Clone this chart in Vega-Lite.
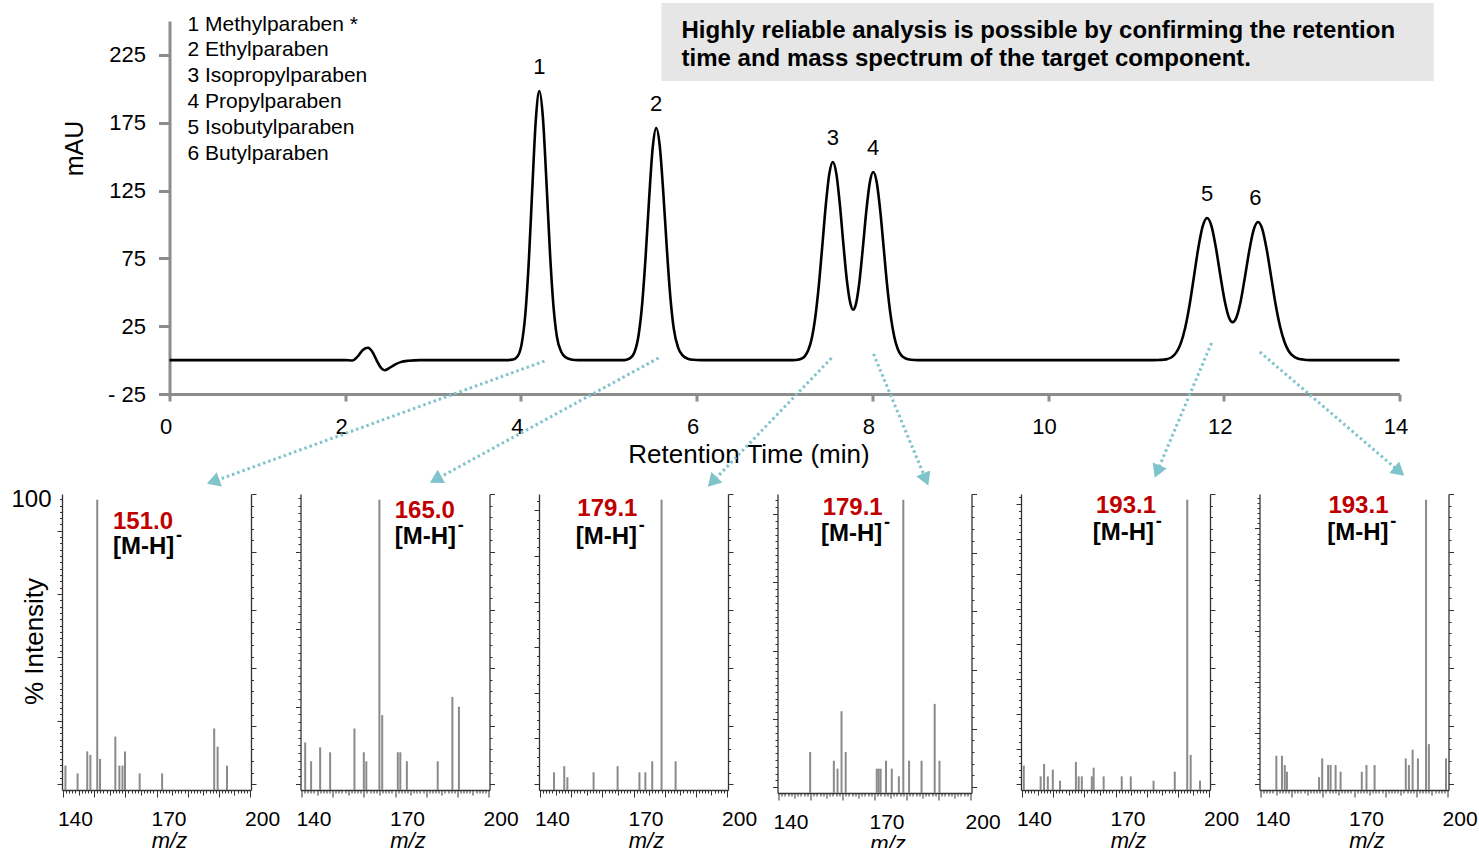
{
"$schema": "https://vega.github.io/schema/vega-lite/v6.json",
"background": "white",
"padding": {"left": 10, "top": 2, "right": 5, "bottom": 0},
"autosize": {"type": "pad"},
"config": {"view": {"stroke": null}, "font": "Liberation Sans", "axis": {"grid": false, "labelFont": "Liberation Sans", "titleFont": "Liberation Sans"}},
"datasets": {
"chrom": [
{"t":0,"v":0},{"t":1,"v":0},{"t":2.0,"v":0},{"t":2.08,"v":-0.3},{"t":2.14,"v":2.5},{"t":2.2,"v":7.5},{"t":2.26,"v":9.1},{"t":2.31,"v":6.0},{"t":2.36,"v":-0.5},{"t":2.41,"v":-6.0},{"t":2.45,"v":-7.5},{"t":2.5,"v":-6.0},{"t":2.56,"v":-3.5},{"t":2.63,"v":-1.5},{"t":2.72,"v":-0.5},{"t":2.85,"v":0},{"t":3.5,"v":0},{"t":3.85,"v":0},
{"t":3.91,"v":0.4},{"t":3.96,"v":2.6},{"t":4.01,"v":12.5},{"t":4.05,"v":33.8},{"t":4.09,"v":73.2},{"t":4.13,"v":127.4},{"t":4.17,"v":177.6},{"t":4.21,"v":198.4},{"t":4.25,"v":179},{"t":4.29,"v":132},{"t":4.33,"v":80},{"t":4.37,"v":40},{"t":4.41,"v":17},{"t":4.46,"v":6},{"t":4.51,"v":2},{"t":4.57,"v":0.5},{"t":4.65,"v":0},{"t":5.0,"v":0},{"t":5.18,"v":0},
{"t":5.24,"v":1.2},{"t":5.29,"v":5.4},{"t":5.34,"v":18.7},{"t":5.38,"v":41.5},{"t":5.42,"v":77},{"t":5.46,"v":120},{"t":5.5,"v":156.6},{"t":5.54,"v":171.1},{"t":5.58,"v":158},{"t":5.62,"v":124},{"t":5.66,"v":83},{"t":5.7,"v":47},{"t":5.74,"v":23},{"t":5.79,"v":9},{"t":5.84,"v":3.5},{"t":5.9,"v":1},{"t":5.96,"v":0.2},{"t":6.05,"v":0},{"t":7.0,"v":0},{"t":7.1,"v":0},
{"t":7.15,"v":0.3},{"t":7.19,"v":1.0},{"t":7.23,"v":2.8},{"t":7.27,"v":7.2},{"t":7.31,"v":15.9},{"t":7.35,"v":31.4},{"t":7.39,"v":54.5},{"t":7.43,"v":84.0},{"t":7.47,"v":114.3},{"t":7.51,"v":137.3},{"t":7.55,"v":146.1},{"t":7.59,"v":137.5},{"t":7.63,"v":114.8},{"t":7.67,"v":85.6},{"t":7.71,"v":58.8},{"t":7.75,"v":41.7},{"t":7.78,"v":37.2},{"t":7.81,"v":40.6},{"t":7.85,"v":56.3},{"t":7.89,"v":81.5},{"t":7.93,"v":109.1},{"t":7.97,"v":130.6},{"t":8.01,"v":138.7},{"t":8.05,"v":131},{"t":8.09,"v":110},{"t":8.13,"v":82},{"t":8.17,"v":54},{"t":8.21,"v":32},{"t":8.25,"v":17},{"t":8.29,"v":8},{"t":8.33,"v":3.5},{"t":8.38,"v":1.2},{"t":8.44,"v":0.3},{"t":8.52,"v":0},{"t":9.5,"v":0},{"t":11.0,"v":0},{"t":11.2,"v":0},
{"t":11.26,"v":0.1},{"t":11.31,"v":0.3},{"t":11.36,"v":0.85},{"t":11.41,"v":2.3},{"t":11.46,"v":5.7},{"t":11.51,"v":12.3},{"t":11.56,"v":23.7},{"t":11.61,"v":40.5},{"t":11.66,"v":61.4},{"t":11.71,"v":82.6},{"t":11.76,"v":98.7},{"t":11.81,"v":104.8},{"t":11.86,"v":98.8},{"t":11.91,"v":83.0},{"t":11.96,"v":62.7},{"t":12.01,"v":43.8},{"t":12.06,"v":31.3},{"t":12.1,"v":28.0},{"t":12.14,"v":30.9},{"t":12.19,"v":42.7},{"t":12.24,"v":61.0},{"t":12.29,"v":80.6},{"t":12.34,"v":96.0},{"t":12.39,"v":101.8},{"t":12.44,"v":96.2},{"t":12.49,"v":81},{"t":12.54,"v":61},{"t":12.59,"v":41},{"t":12.64,"v":25},{"t":12.69,"v":13.5},{"t":12.74,"v":6.5},{"t":12.79,"v":3},{"t":12.84,"v":1.2},{"t":12.9,"v":0.4},{"t":12.98,"v":0},{"t":13.5,"v":0},{"t":14.0,"v":0}
],
"peaks": [
{"label":"1","t":4.21,"v":198.4},{"label":"2","t":5.54,"v":171.1},{"label":"3","t":7.55,"v":146.1},{"label":"4","t":8.01,"v":138.7},{"label":"5","t":11.81,"v":104.8},{"label":"6","t":12.36,"v":101.8}
],
"arrows": [
{"t0":4.268,"v0":-0.7,"t1":0.496,"v1":-89.6},
{"t0":5.566,"v0":1.5,"t1":3.029,"v1":-88.1},
{"t0":7.535,"v0":1.5,"t1":6.179,"v1":-89.9},
{"t0":8.013,"v0":4.5,"t1":8.608,"v1":-88.0},
{"t0":11.86,"v0":12.6,"t1":11.242,"v1":-82.2},
{"t0":12.41,"v0":6.0,"t1":13.997,"v1":-82.1}
],
"ms": [
{"panel":1,"mz":140.8,"intensity":8.4},{"panel":1,"mz":144.7,"intensity":5.7},{"panel":1,"mz":147.8,"intensity":13.3},{"panel":1,"mz":148.8,"intensity":12.1},{"panel":1,"mz":151.0,"intensity":100},{"panel":1,"mz":151.9,"intensity":10.7},{"panel":1,"mz":156.8,"intensity":18.4},{"panel":1,"mz":158.1,"intensity":8.4},{"panel":1,"mz":159.1,"intensity":8.4},{"panel":1,"mz":159.9,"intensity":13.3},{"panel":1,"mz":164.6,"intensity":5.7},{"panel":1,"mz":171.8,"intensity":5.7},{"panel":1,"mz":188.5,"intensity":21.2},{"panel":1,"mz":189.6,"intensity":14.9},{"panel":1,"mz":192.6,"intensity":8.4},
{"panel":2,"mz":141.2,"intensity":16.4},{"panel":2,"mz":143.1,"intensity":9.9},{"panel":2,"mz":146.0,"intensity":14.7},{"panel":2,"mz":149.2,"intensity":13.0},{"panel":2,"mz":157.0,"intensity":21.2},{"panel":2,"mz":160.0,"intensity":13.0},{"panel":2,"mz":160.8,"intensity":9.9},{"panel":2,"mz":165.0,"intensity":100},{"panel":2,"mz":165.9,"intensity":25.8},{"panel":2,"mz":170.9,"intensity":13.0},{"panel":2,"mz":171.7,"intensity":13.0},{"panel":2,"mz":173.8,"intensity":9.9},{"panel":2,"mz":183.7,"intensity":9.9},{"panel":2,"mz":188.4,"intensity":32.1},{"panel":2,"mz":190.5,"intensity":28.7},
{"panel":3,"mz":144.5,"intensity":6.1},{"panel":3,"mz":147.8,"intensity":8.2},{"panel":3,"mz":148.8,"intensity":4.4},{"panel":3,"mz":157.2,"intensity":6.1},{"panel":3,"mz":164.9,"intensity":8.2},{"panel":3,"mz":171.9,"intensity":6.1},{"panel":3,"mz":173.8,"intensity":6.1},{"panel":3,"mz":176.0,"intensity":9.9},{"panel":3,"mz":179.0,"intensity":100},{"panel":3,"mz":183.5,"intensity":9.9},
{"panel":4,"mz":149.9,"intensity":14.0},{"panel":4,"mz":157.3,"intensity":11.0},{"panel":4,"mz":158.45,"intensity":8.3},{"panel":4,"mz":159.7,"intensity":27.9},{"panel":4,"mz":161.0,"intensity":14.0},{"panel":4,"mz":170.7,"intensity":8.3},{"panel":4,"mz":171.3,"intensity":8.3},{"panel":4,"mz":171.9,"intensity":8.3},{"panel":4,"mz":173.6,"intensity":11.0},{"panel":4,"mz":175.4,"intensity":8.3},{"panel":4,"mz":177.6,"intensity":5.7},{"panel":4,"mz":179.0,"intensity":100},{"panel":4,"mz":180.8,"intensity":11.0},{"panel":4,"mz":184.7,"intensity":11.0},{"panel":4,"mz":188.8,"intensity":30.4},{"panel":4,"mz":190.3,"intensity":11.0},
{"panel":5,"mz":140.6,"intensity":8.4},{"panel":5,"mz":146.0,"intensity":4.7},{"panel":5,"mz":147.1,"intensity":9.0},{"panel":5,"mz":148.3,"intensity":4.7},{"panel":5,"mz":149.9,"intensity":7.0},{"panel":5,"mz":152.2,"intensity":3.2},{"panel":5,"mz":157.3,"intensity":9.7},{"panel":5,"mz":158.2,"intensity":4.7},{"panel":5,"mz":159.2,"intensity":4.7},{"panel":5,"mz":162.4,"intensity":4.7},{"panel":5,"mz":163.0,"intensity":7.7},{"panel":5,"mz":166.2,"intensity":4.7},{"panel":5,"mz":172.0,"intensity":4.7},{"panel":5,"mz":174.9,"intensity":4.7},{"panel":5,"mz":182.2,"intensity":3.2},{"panel":5,"mz":189.0,"intensity":6.3},{"panel":5,"mz":193.0,"intensity":100},{"panel":5,"mz":194.1,"intensity":12.1},{"panel":5,"mz":197.1,"intensity":3.2},
{"panel":6,"mz":145.1,"intensity":11.8},{"panel":6,"mz":146.9,"intensity":11.8},{"panel":6,"mz":147.8,"intensity":8.6},{"panel":6,"mz":148.5,"intensity":6.3},{"panel":6,"mz":158.8,"intensity":4.4},{"panel":6,"mz":159.8,"intensity":10.9},{"panel":6,"mz":161.7,"intensity":8.6},{"panel":6,"mz":162.5,"intensity":8.6},{"panel":6,"mz":164.1,"intensity":8.6},{"panel":6,"mz":165.7,"intensity":6.3},{"panel":6,"mz":172.5,"intensity":6.3},{"panel":6,"mz":174.0,"intensity":8.6},{"panel":6,"mz":176.6,"intensity":8.6},{"panel":6,"mz":186.6,"intensity":10.9},{"panel":6,"mz":187.6,"intensity":8.6},{"panel":6,"mz":188.8,"intensity":13.9},{"panel":6,"mz":190.5,"intensity":10.9},{"panel":6,"mz":193.1,"intensity":100},{"panel":6,"mz":194.0,"intensity":15.8},{"panel":6,"mz":199.5,"intensity":10.9}
]
},
"spacing": 0,
"vconcat": [
{
"spacing": 49.5,
"bounds": "flush",
"hconcat": [
{"data": {"values": []}, "mark": "point", "width": 57.5, "height": 373},
{
"width": 1230, "height": 373,
"layer": [
{"data": {"values": [{}]}, "mark": {"type": "rule", "opacity": 0, "strokeWidth": 1, "clip": false},
 "encoding": {"x": {"datum": -1.798, "type": "quantitative", "axis": null}, "x2": {"datum": 0}, "y": {"datum": 0, "type": "quantitative", "axis": null}}},
{"data": {"values": [{}]}, "mark": {"type": "rect", "color": "#e6e6e6", "clip": false},
 "encoding": {"x": {"datum": 5.6, "type": "quantitative", "axis": null}, "x2": {"datum": 14.39}, "y": {"datum": 263.3, "type": "quantitative", "axis": null}, "y2": {"datum": 205.8}}},
{"data": {"name": "chrom"},
 "mark": {"type": "line", "color": "black", "strokeWidth": 2.6, "interpolate": "monotone", "clip": false},
 "encoding": {
  "x": {"field": "t", "type": "quantitative", "scale": {"domain": [0, 14], "nice": false, "zero": false},
   "axis": {"values": [0,2,4,6,8,10,12,14], "tickSize": 7, "tickWidth": 3, "tickColor": "#8c8c8c", "domainColor": "#8c8c8c", "domainWidth": 3, "labelFontSize": 22, "labelColor": "black", "labelPadding": 15, "labelOffset": -4, "labelFlush": false, "labelOverlap": false, "title": "Retention Time (min)", "titleFontSize": 26, "titleFontWeight": "normal", "titleColor": "black", "titleX": 579, "titleY": 60, "titleBaseline": "middle", "titleAlign": "center"}},
  "y": {"field": "v", "type": "quantitative", "scale": {"domain": [-25, 250], "nice": false, "zero": false},
   "axis": {"values": [-25,25,75,125,175,225], "labelExpr": "datum.value < 0 ? '- 25' : datum.label", "tickSize": 11, "tickWidth": 3, "tickColor": "#8c8c8c", "domainColor": "#8c8c8c", "domainWidth": 3, "labelFontSize": 22, "labelColor": "black", "labelPadding": 13, "labelOverlap": false, "labelFlush": false, "title": "mAU", "titleFontSize": 25, "titleFontWeight": "normal", "titleColor": "black", "titleX": -95, "titleY": 127, "titleAngle": 270, "titleBaseline": "middle", "titleAlign": "center"}}
 }},
{"data": {"name": "peaks"},
 "mark": {"type": "text", "fontSize": 22, "dy": -24, "baseline": "middle", "align": "center", "color": "black"},
 "encoding": {"x": {"field": "t", "type": "quantitative", "axis": null}, "y": {"field": "v", "type": "quantitative", "axis": null}, "text": {"field": "label"}}},
{"data": {"values": [{}]}, "mark": {"type": "text", "text": ["1 Methylparaben *", "2 Ethylparaben", "3 Isopropylparaben", "4 Propylparaben", "5 Isobutylparaben", "6 Butylparaben"], "fontSize": 21, "lineHeight": 25.8, "align": "left", "baseline": "top", "color": "black"},
 "encoding": {"x": {"datum": 0.205, "type": "quantitative", "axis": null}, "y": {"datum": 255.4, "type": "quantitative", "axis": null}}},
{"data": {"values": [{}]}, "mark": {"type": "text", "text": ["Highly reliable analysis is possible by confirming the retention", "time and mass spectrum of the target component."], "fontSize": 24, "fontWeight": "bold", "lineHeight": 28, "align": "left", "baseline": "top", "color": "black"},
 "encoding": {"x": {"datum": 5.828, "type": "quantitative", "axis": null}, "y": {"datum": 251.8, "type": "quantitative", "axis": null}}},
{"data": {"name": "arrows"},
 "mark": {"type": "rule", "color": "#7fc3cb", "strokeWidth": 3, "strokeDash": [2.5, 3], "clip": false},
 "encoding": {"x": {"field": "t0", "type": "quantitative", "axis": null}, "y": {"field": "v0", "type": "quantitative", "axis": null}, "x2": {"field": "t1"}, "y2": {"field": "v1"}}},
{"data": {"name": "arrows"},
 "transform": [{"calculate": "atan2((datum.t1 - datum.t0) * 87.857, (datum.v1 - datum.v0) * 1.3563) * 180 / PI", "as": "angle"}],
 "mark": {"type": "point", "shape": "triangle-up", "filled": true, "size": 230, "color": "#7fc3cb", "opacity": 1, "clip": false},
 "encoding": {"x": {"field": "t1", "type": "quantitative", "axis": null}, "y": {"field": "v1", "type": "quantitative", "axis": null}, "angle": {"field": "angle", "type": "quantitative", "scale": null}}}
],
"resolve": {"axis": {"x": "independent", "y": "independent"}}
}
]
},
{
"spacing": 49.5,
"bounds": "flush",
"hconcat": [
{
"width": 189, "height": 296,
"layer": [
{"data": {"name": "ms"}, "transform": [{"filter": "datum.panel === 1"}],
 "mark": {"type": "rule", "color": "#8a8a8a", "strokeWidth": 2},
 "encoding": {
  "x": {"field": "mz", "type": "quantitative", "scale": {"domain": [139.7, 200.3], "nice": false, "zero": false},
   "axis": {"values": [140,141,142,143,144,145,146,147,148,149,150,151,152,153,154,155,156,157,158,159,160,161,162,163,164,165,166,167,168,169,170,171,172,173,174,175,176,177,178,179,180,181,182,183,184,185,186,187,188,189,190,191,192,193,194,195,196,197,198,199,200], "tickSize": {"condition": [{"test": "datum.value % 10 === 0", "value": 7}, {"test": "datum.value % 5 === 0", "value": 5}], "value": 3}, "tickColor": "#333333", "domainColor": "#333333", "domainWidth": 1.3, "labelExpr": "datum.value === 140 || datum.value === 170 || datum.value === 200 ? datum.label : ''", "labelOffset": 12, "labelFontSize": 21, "labelColor": "black", "labelPadding": 11, "labelOverlap": false, "labelFlush": false, "title": "m/z", "titleFontSize": 22, "titleFontStyle": "italic", "titleFontWeight": "normal", "titleColor": "black", "titleX": 107, "titleY": 40, "titleBaseline": "top", "titleAlign": "center"}},
  "y": {"field": "intensity", "type": "quantitative", "scale": {"domain": [0, 102], "nice": false},
   "axis": {"orient": "left", "values": [2.07,4.25,6.43,8.61,10.79,12.98,15.16,17.34,19.52,21.7,23.88,26.06,28.24,30.42,32.6,34.79,36.97,39.15,41.33,43.51,45.69,47.87,50.05,52.23,54.41,56.6,58.78,60.96,63.14,65.32,67.5,69.68,71.86,74.04,76.22,78.41,80.59,82.77,84.95,87.13,89.31,91.49,93.67,95.85,98.03,100.2], "tickSize": {"condition": {"test": "indexof([2.07,23.88,45.69,67.5,89.31], datum.value) >= 0", "value": 5}, "value": 2.5}, "tickColor": "#333333", "domainColor": "#333333", "domainWidth": 1.3, "labelExpr": "datum.value > 99 ? '100' : ''", "labelFontSize": 24, "labelColor": "black", "labelPadding": 8.5, "labelOverlap": false, "labelFlush": false, "title": "% Intensity", "titleFontSize": 26, "titleFontWeight": "normal", "titleColor": "black", "titleX": -28, "titleY": 147, "titleAngle": 270, "titleBaseline": "middle", "titleAlign": "center"}},
  "y2": {"datum": 0}
 }},
{"data": {"values": [{}]}, "mark": {"type": "text", "text": "151.0", "color": "#c00000", "fontSize": 24, "fontWeight": "bold", "align": "left", "baseline": "middle"},
 "encoding": {"x": {"datum": 156.05, "type": "quantitative", "axis": null}, "y": {"datum": 92.3, "type": "quantitative", "axis": {"orient": "right", "values": [2,6,10,14,18,22,26,30,34,38,42,46,50,54,58,62,66,70,74,78,82,86,90,94,98,102], "tickSize": {"condition": {"test": "(datum.value - 2) % 20 === 0", "value": 5}, "value": 2.5}, "tickColor": "#333333", "domainColor": "#333333", "domainWidth": 1.3, "labels": false, "title": null}}}},
{"data": {"values": [{}]}, "mark": {"type": "text", "text": "[M-H]", "color": "black", "fontSize": 24, "fontWeight": "bold", "align": "left", "baseline": "middle"},
 "encoding": {"x": {"datum": 156.05, "type": "quantitative", "axis": null}, "y": {"datum": 83.7, "type": "quantitative", "axis": null}}},
{"data": {"values": [{}]}, "mark": {"type": "text", "text": "-", "color": "black", "fontSize": 18, "fontWeight": "bold", "align": "left", "baseline": "middle", "dx": 63, "dy": -11},
 "encoding": {"x": {"datum": 156.05, "type": "quantitative", "axis": null}, "y": {"datum": 83.7, "type": "quantitative", "axis": null}}}
],
"resolve": {"axis": {"x": "independent", "y": "independent"}}
},
{
"width": 189, "height": 296,
"layer": [
{"data": {"name": "ms"}, "transform": [{"filter": "datum.panel === 2"}],
 "mark": {"type": "rule", "color": "#8a8a8a", "strokeWidth": 2},
 "encoding": {
  "x": {"field": "mz", "type": "quantitative", "scale": {"domain": [139.7, 200.3], "nice": false, "zero": false},
   "axis": {"values": [140,141,142,143,144,145,146,147,148,149,150,151,152,153,154,155,156,157,158,159,160,161,162,163,164,165,166,167,168,169,170,171,172,173,174,175,176,177,178,179,180,181,182,183,184,185,186,187,188,189,190,191,192,193,194,195,196,197,198,199,200], "tickSize": {"condition": [{"test": "datum.value % 10 === 0", "value": 7}, {"test": "datum.value % 5 === 0", "value": 5}], "value": 3}, "tickColor": "#333333", "domainColor": "#333333", "domainWidth": 1.3, "labelExpr": "datum.value === 140 || datum.value === 170 || datum.value === 200 ? datum.label : ''", "labelOffset": 12, "labelFontSize": 21, "labelColor": "black", "labelPadding": 11, "labelOverlap": false, "labelFlush": false, "title": "m/z", "titleFontSize": 22, "titleFontStyle": "italic", "titleFontWeight": "normal", "titleColor": "black", "titleX": 107, "titleY": 40, "titleBaseline": "top", "titleAlign": "center"}},
  "y": {"field": "intensity", "type": "quantitative", "scale": {"domain": [0, 102], "nice": false},
   "axis": {"orient": "left", "values": [2.07,4.73,7.4,10.06,12.73,15.39,18.05,20.72,23.38,26.05,28.71,31.37,34.04,36.7,39.37,42.03,44.69,47.36,50.02,52.69,55.35,58.01,60.68,63.34,66.01,68.67,71.33,74,76.66,79.33,81.99,84.65,87.32,89.98,92.65,95.31,97.97,100.64], "tickSize": {"condition": {"test": "indexof([2.07,28.71,55.35,81.99], datum.value) >= 0", "value": 5}, "value": 2.5}, "tickColor": "#333333", "domainColor": "#333333", "domainWidth": 1.3, "labels": false, "title": null}},
  "y2": {"datum": 0}
 }},
{"data": {"values": [{}]}, "mark": {"type": "text", "text": "165.0", "color": "#c00000", "fontSize": 24, "fontWeight": "bold", "align": "left", "baseline": "middle"},
 "encoding": {"x": {"datum": 169.9, "type": "quantitative", "axis": null}, "y": {"datum": 96.0, "type": "quantitative", "axis": {"orient": "right", "values": [2,6,10,14,18,22,26,30,34,38,42,46,50,54,58,62,66,70,74,78,82,86,90,94,98,102], "tickSize": {"condition": {"test": "(datum.value - 2) % 20 === 0", "value": 5}, "value": 2.5}, "tickColor": "#333333", "domainColor": "#333333", "domainWidth": 1.3, "labels": false, "title": null}}}},
{"data": {"values": [{}]}, "mark": {"type": "text", "text": "[M-H]", "color": "black", "fontSize": 24, "fontWeight": "bold", "align": "left", "baseline": "middle"},
 "encoding": {"x": {"datum": 169.9, "type": "quantitative", "axis": null}, "y": {"datum": 87.3, "type": "quantitative", "axis": null}}},
{"data": {"values": [{}]}, "mark": {"type": "text", "text": "-", "color": "black", "fontSize": 18, "fontWeight": "bold", "align": "left", "baseline": "middle", "dx": 63, "dy": -11},
 "encoding": {"x": {"datum": 169.9, "type": "quantitative", "axis": null}, "y": {"datum": 87.3, "type": "quantitative", "axis": null}}}
],
"resolve": {"axis": {"x": "independent", "y": "independent"}}
},
{
"width": 189, "height": 296,
"layer": [
{"data": {"name": "ms"}, "transform": [{"filter": "datum.panel === 3"}],
 "mark": {"type": "rule", "color": "#8a8a8a", "strokeWidth": 2},
 "encoding": {
  "x": {"field": "mz", "type": "quantitative", "scale": {"domain": [139.7, 200.3], "nice": false, "zero": false},
   "axis": {"values": [140,141,142,143,144,145,146,147,148,149,150,151,152,153,154,155,156,157,158,159,160,161,162,163,164,165,166,167,168,169,170,171,172,173,174,175,176,177,178,179,180,181,182,183,184,185,186,187,188,189,190,191,192,193,194,195,196,197,198,199,200], "tickSize": {"condition": [{"test": "datum.value % 10 === 0", "value": 7}, {"test": "datum.value % 5 === 0", "value": 5}], "value": 3}, "tickColor": "#333333", "domainColor": "#333333", "domainWidth": 1.3, "labelExpr": "datum.value === 140 || datum.value === 170 || datum.value === 200 ? datum.label : ''", "labelOffset": 12, "labelFontSize": 21, "labelColor": "black", "labelPadding": 11, "labelOverlap": false, "labelFlush": false, "title": "m/z", "titleFontSize": 22, "titleFontStyle": "italic", "titleFontWeight": "normal", "titleColor": "black", "titleX": 107, "titleY": 40, "titleBaseline": "top", "titleAlign": "center"}},
  "y": {"field": "intensity", "type": "quantitative", "scale": {"domain": [0, 102], "nice": false},
   "axis": {"orient": "left", "values": [2.07,5.21,8.35,11.5,14.64,17.78,20.92,24.06,27.21,30.35,33.49,36.63,39.77,42.92,46.06,49.2,52.34,55.48,58.63,61.77,64.91,68.05,71.19,74.34,77.48,80.62,83.76,86.9,90.05,93.19,96.33,99.47], "tickSize": {"condition": {"test": "indexof([2.07,17.78,33.49,49.2,64.91,80.62,96.33], datum.value) >= 0", "value": 5}, "value": 2.5}, "tickColor": "#333333", "domainColor": "#333333", "domainWidth": 1.3, "labels": false, "title": null}},
  "y2": {"datum": 0}
 }},
{"data": {"values": [{}]}, "mark": {"type": "text", "text": "179.1", "color": "#c00000", "fontSize": 24, "fontWeight": "bold", "align": "left", "baseline": "middle"},
 "encoding": {"x": {"datum": 152.0, "type": "quantitative", "axis": null}, "y": {"datum": 96.8, "type": "quantitative", "axis": {"orient": "right", "values": [2,6,10,14,18,22,26,30,34,38,42,46,50,54,58,62,66,70,74,78,82,86,90,94,98,102], "tickSize": {"condition": {"test": "(datum.value - 2) % 20 === 0", "value": 5}, "value": 2.5}, "tickColor": "#333333", "domainColor": "#333333", "domainWidth": 1.3, "labels": false, "title": null}}}},
{"data": {"values": [{}]}, "mark": {"type": "text", "text": "[M-H]", "color": "black", "fontSize": 24, "fontWeight": "bold", "align": "left", "baseline": "middle"},
 "encoding": {"x": {"datum": 151.5, "type": "quantitative", "axis": null}, "y": {"datum": 87.2, "type": "quantitative", "axis": null}}},
{"data": {"values": [{}]}, "mark": {"type": "text", "text": "-", "color": "black", "fontSize": 18, "fontWeight": "bold", "align": "left", "baseline": "middle", "dx": 63, "dy": -11},
 "encoding": {"x": {"datum": 151.5, "type": "quantitative", "axis": null}, "y": {"datum": 87.2, "type": "quantitative", "axis": null}}}
],
"resolve": {"axis": {"x": "independent", "y": "independent"}}
},
{
"width": 194, "height": 299,
"layer": [
{"data": {"name": "ms"}, "transform": [{"filter": "datum.panel === 4"}],
 "mark": {"type": "rule", "color": "#8a8a8a", "strokeWidth": 2},
 "encoding": {
  "x": {"field": "mz", "type": "quantitative", "scale": {"domain": [139.7, 200.3], "nice": false, "zero": false},
   "axis": {"values": [140,141,142,143,144,145,146,147,148,149,150,151,152,153,154,155,156,157,158,159,160,161,162,163,164,165,166,167,168,169,170,171,172,173,174,175,176,177,178,179,180,181,182,183,184,185,186,187,188,189,190,191,192,193,194,195,196,197,198,199,200], "tickSize": {"condition": [{"test": "datum.value % 10 === 0", "value": 7}, {"test": "datum.value % 5 === 0", "value": 5}], "value": 3}, "tickColor": "#333333", "domainColor": "#333333", "domainWidth": 1.3, "labelExpr": "datum.value === 140 || datum.value === 170 || datum.value === 200 ? datum.label : ''", "labelOffset": 12, "labelFontSize": 21, "labelColor": "black", "labelPadding": 11, "labelOverlap": false, "labelFlush": false, "title": "m/z", "titleFontSize": 22, "titleFontStyle": "italic", "titleFontWeight": "normal", "titleColor": "black", "titleX": 110, "titleY": 40, "titleBaseline": "top", "titleAlign": "center"}},
  "y": {"field": "intensity", "type": "quantitative", "scale": {"domain": [0, 102], "nice": false},
   "axis": {"orient": "left", "values": [1.94,4.27,6.6,8.93,11.26,13.59,15.92,18.25,20.58,22.91,25.24,27.57,29.9,32.23,34.56,36.89,39.22,41.55,43.88,46.21,48.54,50.87,53.2,55.53,57.86,60.19,62.52,64.85,67.18,69.51,71.84,74.17,76.5,78.83,81.16,83.49,85.82,88.15,90.48,92.81,95.14,97.47,99.8], "tickSize": {"condition": {"test": "indexof([1.94,25.24,48.54,71.84,95.14], datum.value) >= 0", "value": 5}, "value": 2.5}, "tickColor": "#333333", "domainColor": "#333333", "domainWidth": 1.3, "labels": false, "title": null}},
  "y2": {"datum": 0}
 }},
{"data": {"values": [{}]}, "mark": {"type": "text", "text": "179.1", "color": "#c00000", "fontSize": 24, "fontWeight": "bold", "align": "left", "baseline": "middle"},
 "encoding": {"x": {"datum": 153.8, "type": "quantitative", "axis": null}, "y": {"datum": 97.2, "type": "quantitative", "axis": {"orient": "right", "values": [2,6,10,14,18,22,26,30,34,38,42,46,50,54,58,62,66,70,74,78,82,86,90,94,98,102], "tickSize": {"condition": {"test": "(datum.value - 2) % 20 === 0", "value": 5}, "value": 2.5}, "tickColor": "#333333", "domainColor": "#333333", "domainWidth": 1.3, "labels": false, "title": null}}}},
{"data": {"values": [{}]}, "mark": {"type": "text", "text": "[M-H]", "color": "black", "fontSize": 24, "fontWeight": "bold", "align": "left", "baseline": "middle"},
 "encoding": {"x": {"datum": 153.3, "type": "quantitative", "axis": null}, "y": {"datum": 88.2, "type": "quantitative", "axis": null}}},
{"data": {"values": [{}]}, "mark": {"type": "text", "text": "-", "color": "black", "fontSize": 18, "fontWeight": "bold", "align": "left", "baseline": "middle", "dx": 63, "dy": -11},
 "encoding": {"x": {"datum": 153.3, "type": "quantitative", "axis": null}, "y": {"datum": 88.2, "type": "quantitative", "axis": null}}}
],
"resolve": {"axis": {"x": "independent", "y": "independent"}}
},
{
"width": 189, "height": 296,
"layer": [
{"data": {"name": "ms"}, "transform": [{"filter": "datum.panel === 5"}],
 "mark": {"type": "rule", "color": "#8a8a8a", "strokeWidth": 2},
 "encoding": {
  "x": {"field": "mz", "type": "quantitative", "scale": {"domain": [139.7, 200.3], "nice": false, "zero": false},
   "axis": {"values": [140,141,142,143,144,145,146,147,148,149,150,151,152,153,154,155,156,157,158,159,160,161,162,163,164,165,166,167,168,169,170,171,172,173,174,175,176,177,178,179,180,181,182,183,184,185,186,187,188,189,190,191,192,193,194,195,196,197,198,199,200], "tickSize": {"condition": [{"test": "datum.value % 10 === 0", "value": 7}, {"test": "datum.value % 5 === 0", "value": 5}], "value": 3}, "tickColor": "#333333", "domainColor": "#333333", "domainWidth": 1.3, "labelExpr": "datum.value === 140 || datum.value === 170 || datum.value === 200 ? datum.label : ''", "labelOffset": 12, "labelFontSize": 21, "labelColor": "black", "labelPadding": 11, "labelOverlap": false, "labelFlush": false, "title": "m/z", "titleFontSize": 22, "titleFontStyle": "italic", "titleFontWeight": "normal", "titleColor": "black", "titleX": 107, "titleY": 40, "titleBaseline": "top", "titleAlign": "center"}},
  "y": {"field": "intensity", "type": "quantitative", "scale": {"domain": [0, 102], "nice": false},
   "axis": {"orient": "left", "values": [2.07,4.48,6.89,9.31,11.72,14.13,16.54,18.95,21.37,23.78,26.19,28.6,31.01,33.43,35.84,38.25,40.66,43.07,45.49,47.9,50.31,52.72,55.13,57.55,59.96,62.37,64.78,67.19,69.61,72.02,74.43,76.84,79.25,81.67,84.08,86.49,88.9,91.31,93.73,96.14,98.55,100.96], "tickSize": {"condition": {"test": "indexof([2.07,14.13,26.19,38.25,50.31,62.37,74.43,86.49,98.55], datum.value) >= 0", "value": 5}, "value": 2.5}, "tickColor": "#333333", "domainColor": "#333333", "domainWidth": 1.3, "labels": false, "title": null}},
  "y2": {"datum": 0}
 }},
{"data": {"values": [{}]}, "mark": {"type": "text", "text": "193.1", "color": "#c00000", "fontSize": 24, "fontWeight": "bold", "align": "left", "baseline": "middle"},
 "encoding": {"x": {"datum": 163.75, "type": "quantitative", "axis": null}, "y": {"datum": 97.7, "type": "quantitative", "axis": {"orient": "right", "values": [2,6,10,14,18,22,26,30,34,38,42,46,50,54,58,62,66,70,74,78,82,86,90,94,98,102], "tickSize": {"condition": {"test": "(datum.value - 2) % 20 === 0", "value": 5}, "value": 2.5}, "tickColor": "#333333", "domainColor": "#333333", "domainWidth": 1.3, "labels": false, "title": null}}}},
{"data": {"values": [{}]}, "mark": {"type": "text", "text": "[M-H]", "color": "black", "fontSize": 24, "fontWeight": "bold", "align": "left", "baseline": "middle"},
 "encoding": {"x": {"datum": 162.7, "type": "quantitative", "axis": null}, "y": {"datum": 88.6, "type": "quantitative", "axis": null}}},
{"data": {"values": [{}]}, "mark": {"type": "text", "text": "-", "color": "black", "fontSize": 18, "fontWeight": "bold", "align": "left", "baseline": "middle", "dx": 63, "dy": -11},
 "encoding": {"x": {"datum": 162.7, "type": "quantitative", "axis": null}, "y": {"datum": 88.6, "type": "quantitative", "axis": null}}}
],
"resolve": {"axis": {"x": "independent", "y": "independent"}}
},
{
"width": 189, "height": 296,
"layer": [
{"data": {"name": "ms"}, "transform": [{"filter": "datum.panel === 6"}],
 "mark": {"type": "rule", "color": "#8a8a8a", "strokeWidth": 2},
 "encoding": {
  "x": {"field": "mz", "type": "quantitative", "scale": {"domain": [139.7, 200.3], "nice": false, "zero": false},
   "axis": {"values": [140,141,142,143,144,145,146,147,148,149,150,151,152,153,154,155,156,157,158,159,160,161,162,163,164,165,166,167,168,169,170,171,172,173,174,175,176,177,178,179,180,181,182,183,184,185,186,187,188,189,190,191,192,193,194,195,196,197,198,199,200], "tickSize": {"condition": [{"test": "datum.value % 10 === 0", "value": 7}, {"test": "datum.value % 5 === 0", "value": 5}], "value": 3}, "tickColor": "#333333", "domainColor": "#333333", "domainWidth": 1.3, "labelExpr": "datum.value === 140 || datum.value === 170 || datum.value === 200 ? datum.label : ''", "labelOffset": 12, "labelFontSize": 21, "labelColor": "black", "labelPadding": 11, "labelOverlap": false, "labelFlush": false, "title": "m/z", "titleFontSize": 22, "titleFontStyle": "italic", "titleFontWeight": "normal", "titleColor": "black", "titleX": 107, "titleY": 40, "titleBaseline": "top", "titleAlign": "center"}},
  "y": {"field": "intensity", "type": "quantitative", "scale": {"domain": [0, 102], "nice": false},
   "axis": {"orient": "left", "values": [2.07,3.83,5.59,7.35,9.11,10.88,12.64,14.4,16.16,17.92,19.68,21.44,23.2,24.96,26.72,28.49,30.25,32.01,33.77,35.53,37.29,39.05,40.81,42.57,44.33,46.1,47.86,49.62,51.38,53.14,54.9,56.66,58.42,60.18,61.94,63.71,65.47,67.23,68.99,70.75,72.51,74.27,76.03,77.79,79.55,81.32,83.08,84.84,86.6,88.36,90.12,91.88,93.64,95.4,97.16,98.93,100.69], "tickSize": {"condition": {"test": "indexof([2.07,19.68,37.29,54.9,72.51,90.12], datum.value) >= 0", "value": 5}, "value": 2.5}, "tickColor": "#333333", "domainColor": "#333333", "domainWidth": 1.3, "labels": false, "title": null}},
  "y2": {"datum": 0}
 }},
{"data": {"values": [{}]}, "mark": {"type": "text", "text": "193.1", "color": "#c00000", "fontSize": 24, "fontWeight": "bold", "align": "left", "baseline": "middle"},
 "encoding": {"x": {"datum": 161.8, "type": "quantitative", "axis": null}, "y": {"datum": 97.7, "type": "quantitative", "axis": {"orient": "right", "values": [2,6,10,14,18,22,26,30,34,38,42,46,50,54,58,62,66,70,74,78,82,86,90,94,98,102], "tickSize": {"condition": {"test": "(datum.value - 2) % 20 === 0", "value": 5}, "value": 2.5}, "tickColor": "#333333", "domainColor": "#333333", "domainWidth": 1.3, "labels": false, "title": null}}}},
{"data": {"values": [{}]}, "mark": {"type": "text", "text": "[M-H]", "color": "black", "fontSize": 24, "fontWeight": "bold", "align": "left", "baseline": "middle"},
 "encoding": {"x": {"datum": 161.4, "type": "quantitative", "axis": null}, "y": {"datum": 88.6, "type": "quantitative", "axis": null}}},
{"data": {"values": [{}]}, "mark": {"type": "text", "text": "-", "color": "black", "fontSize": 18, "fontWeight": "bold", "align": "left", "baseline": "middle", "dx": 63, "dy": -11},
 "encoding": {"x": {"datum": 161.4, "type": "quantitative", "axis": null}, "y": {"datum": 88.6, "type": "quantitative", "axis": null}}}
],
"resolve": {"axis": {"x": "independent", "y": "independent"}}
}
]
}
]
}
